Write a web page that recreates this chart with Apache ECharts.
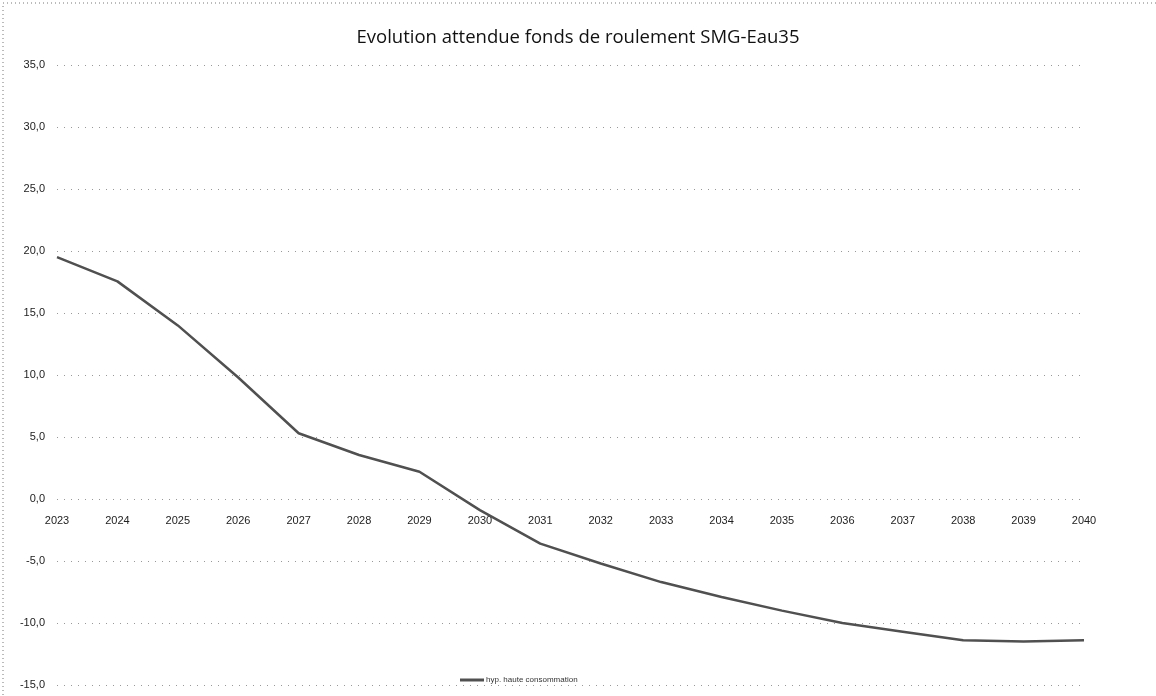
<!DOCTYPE html>
<html>
<head>
<meta charset="utf-8">
<script src="https://cdn.jsdelivr.net/npm/echarts@6/dist/echarts.min.js"></script>
<style>
html,body{margin:0;padding:0;background:#fff;}
#chart{width:1156px;height:696px;}
</style>
</head>
<body>
<div id="chart"></div>
<script>
const title = 'Evolution attendue fonds de roulement SMG-Eau35';
const seriesName = 'hyp. haute consommation';
const years = ['2023','2024','2025','2026','2027','2028','2029','2030','2031','2032','2033','2034','2035','2036','2037','2038','2039','2040'];
const values = [19.5, 17.55, 14.0, 9.8, 5.3, 3.55, 2.2, -0.9, -3.6, -5.2, -6.7, -7.9, -9.0, -10.0, -10.7, -11.4, -11.5, -11.4];
const yMin = -15, yMax = 35, yStep = 5;

const W = 1156, H = 696;
const gridTop = 65, gridBottom = 11;
const gridH = H - gridTop - gridBottom;
// place the category axis where the value axis crosses zero
const zeroOffset = -((0 - yMin) / (yMax - yMin)) * gridH;

const chart = echarts.init(document.getElementById('chart'));
chart.setOption({
  backgroundColor: '#ffffff',
  animation: false,
  title: {
    text: title,
    left: 'center',
    top: 23,
    textStyle: { fontFamily: 'Open Sans', fontWeight: 'normal', fontSize: 18.5, color: '#111' }
  },
  legend: {
    data: [seriesName],
    left: 455,
    top: 671,
    itemWidth: 24,
    itemHeight: 3,
    itemGap: 2,
    icon: 'rect',
    textStyle: { fontFamily: 'Liberation Sans', fontSize: 8, color: '#333', padding: [0,0,0,-3] }
  },
  graphic: [{
    type: 'rect',
    shape: { x: 3, y: 3, width: 1300, height: 900 },
    style: { fill: 'none', stroke: '#777', lineWidth: 1, lineDash: [1, 3] },
    silent: true
  }],
  grid: { left: 57, right: 72, top: gridTop, bottom: gridBottom, containLabel: false },
  xAxis: {
    type: 'category',
    data: years,
    boundaryGap: false,
    position: 'bottom',
    offset: zeroOffset,
    axisLine: { show: false, onZero: false },
    axisTick: { show: false },
    axisLabel: { margin: 16, fontFamily: 'Liberation Sans', fontSize: 11, color: '#222' },
    splitLine: { show: false }
  },
  yAxis: {
    type: 'value',
    min: yMin, max: yMax, interval: yStep,
    axisLine: { show: false },
    axisTick: { show: false },
    axisLabel: {
      margin: 12, fontFamily: 'Liberation Sans', fontSize: 11, color: '#222',
      formatter: v => v.toFixed(1).replace('.', ',')
    },
    splitLine: { show: true, lineStyle: { color: '#999', width: 1, type: [1, 6] } }
  },
  series: [{
    name: seriesName,
    type: 'line',
    data: values,
    symbol: 'none',
    lineStyle: { color: '#505050', width: 2.5 },
    itemStyle: { color: '#505050' }
  }]
});
</script>
</body>
</html>
